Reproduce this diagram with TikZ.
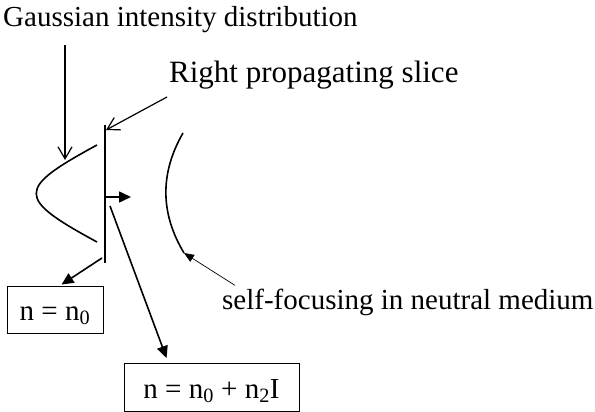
\documentclass[tikz,border=0pt]{standalone}
\usepackage{fontspec}
\setmainfont{Liberation Serif}
\usetikzlibrary{arrows.meta}

\begin{document}
\begin{tikzpicture}[x=1pt, y=-1pt,
    lbl/.style={font=\fontsize{29}{34}\selectfont, inner sep=0pt},
    eqbox/.style={draw, line width=0.9pt, font=\fontsize{29}{34}\selectfont,
      text height=24pt, text depth=3pt, inner sep=0pt},
    beam/.style={line width=1.6pt},
    pointer/.style={line width=1.2pt},
    openhead/.style={-{Straight Barb[length=12pt,width=14pt]}},
    solidhead/.style={-{Triangle[length=12pt,width=11pt]}}]
    % Page frame: 595 x 412 units, y grows downwards
    \useasboundingbox (0,0) rectangle (595,412);

    % Labels
    \node[lbl, anchor=base west] (gauss) at (3,27) {Gaussian intensity distribution};
    \node[lbl, font=\fontsize{31}{36}\selectfont, anchor=base west] (slice) at (169,83) {Right propagating slice};
    \node[lbl, anchor=base west] (focus) at (222,309) {self-focusing in neutral medium};

    % Refractive index boxes
    \node[eqbox, minimum width=96pt, minimum height=47pt] (nzero) at (55,309.5) {n = n\textsubscript{0}};
    \node[eqbox, minimum width=175pt, minimum height=48pt] (nkerr) at (211.5,387.5) {n = n\textsubscript{0} + n\textsubscript{2}I};

    % Slice front and its intensity profile
    \coordinate (stop) at (105,125);
    \coordinate (sbot) at (105,263);
    \coordinate (pmid) at (105,197);
    \coordinate (ghit) at (65,160);
    \draw[beam] (stop) -- (sbot);
    \draw[beam] (97,145) .. controls (16,189) and (16,198) .. (97,242);

    % Self-focused front further on
    \coordinate (fend) at (184,253);
    \draw[beam] (183,133) .. controls (160,173) and (160,213) .. (fend);

    % Pointers
    \draw[pointer, openhead] ([xshift=62pt, yshift=-18pt]gauss.base west) -- (ghit);
    \draw[pointer, openhead] ([xshift=-2pt, yshift=-14pt]slice.base west) -- ([xshift=1pt, yshift=-5pt]stop);
    \draw[beam, solidhead] (pmid) -- ++(26,0);
    \draw[beam, solidhead] ([xshift=-3pt, yshift=5pt]sbot) -- ([xshift=55pt, yshift=1pt]nzero.north west);
    \draw[beam, solidhead] (110,206) -- ([xshift=43pt, yshift=5pt]nkerr.north west);
    \draw[line width=0.7pt, -{Triangle[length=10pt,width=8pt]}] ([xshift=13pt, yshift=3pt]focus.north west) -- (fend);

  \end{tikzpicture}
\end{document}
